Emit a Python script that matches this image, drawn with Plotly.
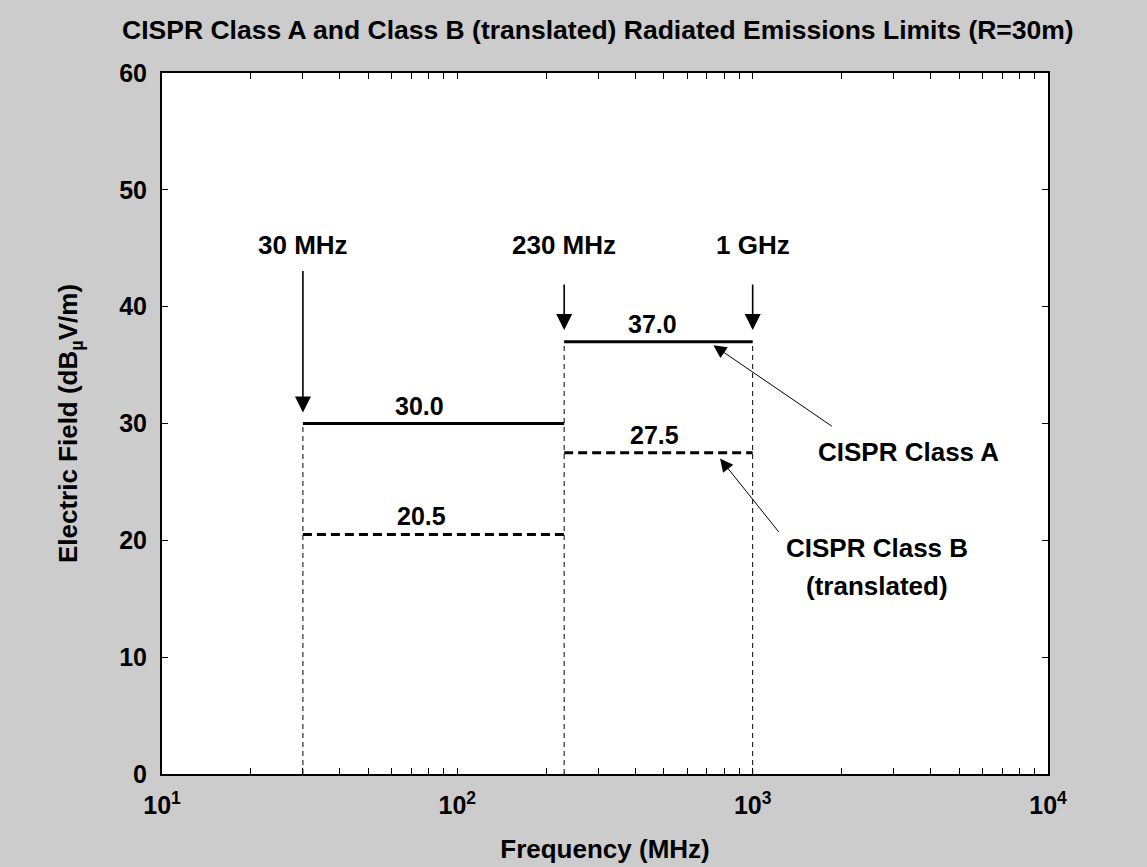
import math
import plotly.graph_objects as go

# ---- data ----
freq_edges = [30, 230, 1000]                 # MHz, band edges
class_a = [30.0, 37.0]                       # dBuV/m per band
class_b = [20.5, 27.5]                       # dBuV/m per band (translated)
edge_labels = ["30 MHz", "230 MHz", "1 GHz"]
value_labels_a = ["30.0", "37.0"]
value_labels_b = ["20.5", "27.5"]
x_decades = [1, 2, 3, 4]
y_ticks = [0, 10, 20, 30, 40, 50, 60]

FONT = "Liberation Sans, Arial, sans-serif"
BLACK = "black"

fig = go.Figure()

# vertical dotted boundary lines, from 0 up to the Class A limit at each edge
for i, f in enumerate(freq_edges):
    adj = [class_a[j] for j in (i - 1, i) if 0 <= j < len(class_a)]
    top = max(adj)
    fig.add_trace(go.Scatter(x=[f, f], y=[0, top], mode="lines",
                             line=dict(color=BLACK, width=1, dash="5px,4px"),
                             hoverinfo="skip", showlegend=False))

def steps(vals):
    xs, ys = [], []
    for i, v in enumerate(vals):
        xs += [freq_edges[i], freq_edges[i + 1], None]
        ys += [v, v, None]
    return xs, ys

xa, ya = steps(class_a)
fig.add_trace(go.Scatter(x=xa, y=ya, mode="lines", name="CISPR Class A",
                         line=dict(color=BLACK, width=3), showlegend=False))
xb, yb = steps(class_b)
fig.add_trace(go.Scatter(x=xb, y=yb, mode="lines", name="CISPR Class B",
                         line=dict(color=BLACK, width=3, dash="9px,5px"),
                         showlegend=False))

ann = []
tfont = dict(family=FONT, size=26, color=BLACK, weight="bold")
vfont = dict(family=FONT, size=25, color=BLACK, weight="bold")

# edge labels with arrows
arrow_tail = [-143, -47, -47]   # pixel offsets of arrow tails
arrow_tip = [30.95, 38.0, 38.0]
for f, lab, tail, tip in zip(freq_edges, edge_labels, arrow_tail, arrow_tip):
    ann.append(dict(x=math.log10(f), y=tip, xref="x", yref="y", text="",
                    showarrow=True, ax=0, ay=tail, arrowhead=2, arrowsize=2,
                    arrowwidth=1.6, arrowcolor=BLACK, standoff=0))
    ann.append(dict(x=math.log10(f), y=45.3, xref="x", yref="y", text=lab,
                    showarrow=False, font=tfont, xanchor="center", yanchor="middle"))

# value labels above each segment
label_xshift = [-14, -6]
for i in range(len(class_a)):
    xm = (math.log10(freq_edges[i]) + math.log10(freq_edges[i + 1])) / 2
    ann.append(dict(x=xm, y=class_a[i], text=value_labels_a[i], showarrow=False,
                    font=vfont, yanchor="middle", yshift=18, xshift=label_xshift[i]))
    ann.append(dict(x=xm, y=class_b[i], text=value_labels_b[i], showarrow=False,
                    font=vfont, yanchor="middle", yshift=18, xshift=label_xshift[i] + 2))

# series labels with pointer arrows
ann.append(dict(x=2.867, y=36.7, text="", showarrow=True, ax=120, ay=82,
                arrowhead=2, arrowsize=2.6, arrowwidth=1, arrowcolor=BLACK, standoff=0))
ann.append(dict(x=3.526, y=27.6, text="CISPR Class A", showarrow=False, font=tfont))
ann.append(dict(x=2.8896, y=27.0, text="", showarrow=True, ax=60, ay=75,
                arrowhead=2, arrowsize=2.6, arrowwidth=1, arrowcolor=BLACK, standoff=0))
ann.append(dict(x=3.42, y=19.32, text="CISPR Class B", showarrow=False, font=tfont))
ann.append(dict(x=3.42, y=16.1, text="(translated)", showarrow=False, font=tfont))

# x tick positions: majors + log minors
tickvals, ticktext = [], []
for e in x_decades:
    for k in range(1, 10):
        if e == x_decades[-1] and k > 1:
            break
        tickvals.append(k * 10 ** e)
        ticktext.append(f"10<sup>{e}</sup>" if k == 1 else "")

fig.update_layout(
    width=1147, height=867,
    margin=dict(l=162, r=99, t=73, b=93),
    paper_bgcolor="#cccccc", plot_bgcolor="white",
    font=dict(family=FONT, size=25, color=BLACK, weight="bold"),
    title=dict(text="CISPR Class A and Class B (translated) Radiated Emissions Limits (R=30m)",
               x=0.492, xref="paper", xanchor="center", y=1 - 30 / 867, yanchor="middle",
               font=dict(family=FONT, size=26.5, color=BLACK, weight="bold")),
    annotations=ann,
    showlegend=False,
)
fig.update_xaxes(type="log", range=[1, 4], tickvals=tickvals, ticktext=ticktext,
                 ticks="inside", ticklen=6, tickwidth=1, tickcolor=BLACK,
                 showline=True, linecolor=BLACK, linewidth=2, mirror="ticks",
                 showgrid=False, zeroline=False, ticklabelstandoff=8, automargin=False,
                 title=dict(text="Frequency (MHz)", standoff=22,
                            font=dict(family=FONT, size=26, weight="bold")))
fig.update_yaxes(range=[0, 60], tickvals=y_ticks,
                 ticks="inside", ticklen=6, tickwidth=1, tickcolor=BLACK,
                 showline=True, linecolor=BLACK, linewidth=2, mirror="ticks",
                 showgrid=False, zeroline=False, ticklabelstandoff=8, automargin=False,
                 title=dict(text="Electric Field (dB<sub>µ</sub>V/m)", standoff=34,
                            font=dict(family=FONT, size=26, weight="bold")))

fig.write_html("out.html")
